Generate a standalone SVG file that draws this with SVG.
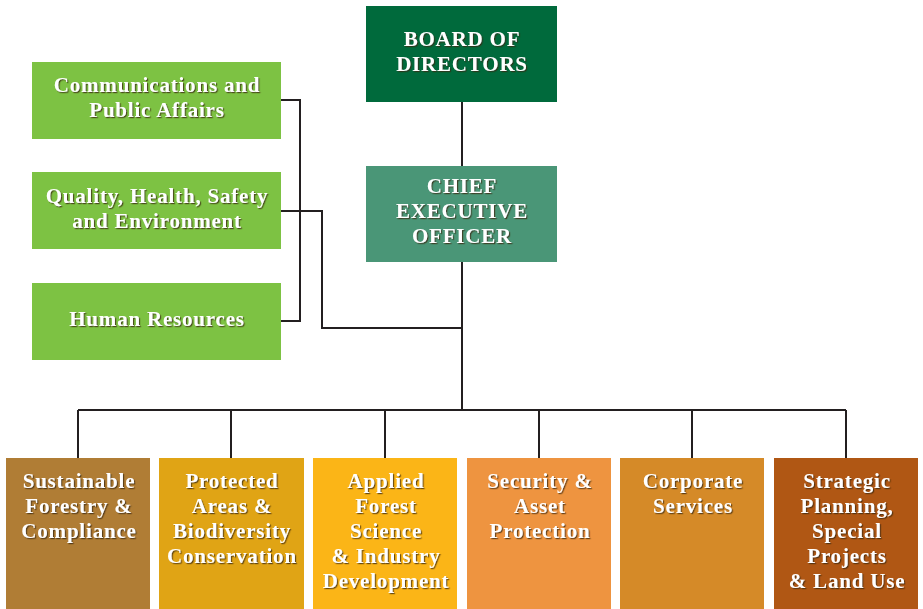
<svg xmlns="http://www.w3.org/2000/svg" width="923" height="609" viewBox="0 0 923 609">
<defs>
<filter id="sh" x="-10%" y="-20%" width="130%" height="150%">
<feDropShadow dx="1.2" dy="1.2" stdDeviation="0.6" flood-color="#3a2a10" flood-opacity="0.75"/>
</filter>
</defs>
<style>
text{font-family:"Liberation Serif","Times New Roman",serif;font-weight:bold;fill:#fff;text-anchor:middle;font-size:21px;letter-spacing:0.8px;filter:url(#sh)}
.ln{fill:none;stroke:#231F20;stroke-width:2}
</style>
<rect width="923" height="609" fill="#fff"/>
<g id="connectors">
<path class="ln" d="M462 101V166M462 261V410M78 410H846M78 410V458M231 410V458M385 410V458M539 410V458M692 410V458M846 410V458"/>
<path class="ln" d="M281 100H300V321H281M281 211H322V328H462"/>
</g>
<g id="board"><rect x="366" y="6" width="191" height="96" fill="#006A3C"/>
<text x="462" y="46">BOARD OF</text><text x="462" y="71">DIRECTORS</text></g>
<g id="ceo"><rect x="366" y="166" width="191" height="96" fill="#4A9677"/>
<text x="462" y="193">CHIEF</text><text x="462" y="218">EXECUTIVE</text><text x="462" y="243">OFFICER</text></g>
<g id="comms"><rect x="32" y="62" width="249" height="77" fill="#7DC243"/>
<text x="157" y="92">Communications and</text><text x="157" y="117">Public Affairs</text></g>
<g id="qhse"><rect x="32" y="172" width="249" height="77" fill="#7DC243"/>
<text x="157" y="203">Quality, Health, Safety</text><text x="157" y="228">and Environment</text></g>
<g id="hr"><rect x="32" y="283" width="249" height="77" fill="#7DC243"/>
<text x="157" y="326">Human Resources</text></g>
<g id="sustainable"><rect x="6" y="458" width="144" height="151" fill="#B07D35"/>
<text x="79" y="488">Sustainable</text><text x="79" y="513">Forestry &amp;</text><text x="79" y="538">Compliance</text></g>
<g id="protected"><rect x="159" y="458" width="145" height="151" fill="#E0A415"/>
<text x="232" y="488">Protected</text><text x="232" y="513">Areas &amp;</text><text x="232" y="538">Biodiversity</text><text x="232" y="563">Conservation</text></g>
<g id="applied"><rect x="313" y="458" width="144" height="151" fill="#FBB517"/>
<text x="386" y="488">Applied</text><text x="386" y="513">Forest</text><text x="386" y="538">Science</text><text x="386" y="563">&amp; Industry</text><text x="386" y="588">Development</text></g>
<g id="security"><rect x="467" y="458" width="144" height="151" fill="#EE9440"/>
<text x="540" y="488">Security &amp;</text><text x="540" y="513">Asset</text><text x="540" y="538">Protection</text></g>
<g id="corporate"><rect x="620" y="458" width="144" height="151" fill="#D58A28"/>
<text x="693" y="488">Corporate</text><text x="693" y="513">Services</text></g>
<g id="strategic"><rect x="774" y="458" width="144" height="151" fill="#B05714"/>
<text x="847" y="488">Strategic</text><text x="847" y="513">Planning,</text><text x="847" y="538">Special</text><text x="847" y="563">Projects</text><text x="847" y="588">&amp; Land Use</text></g>
</svg>
